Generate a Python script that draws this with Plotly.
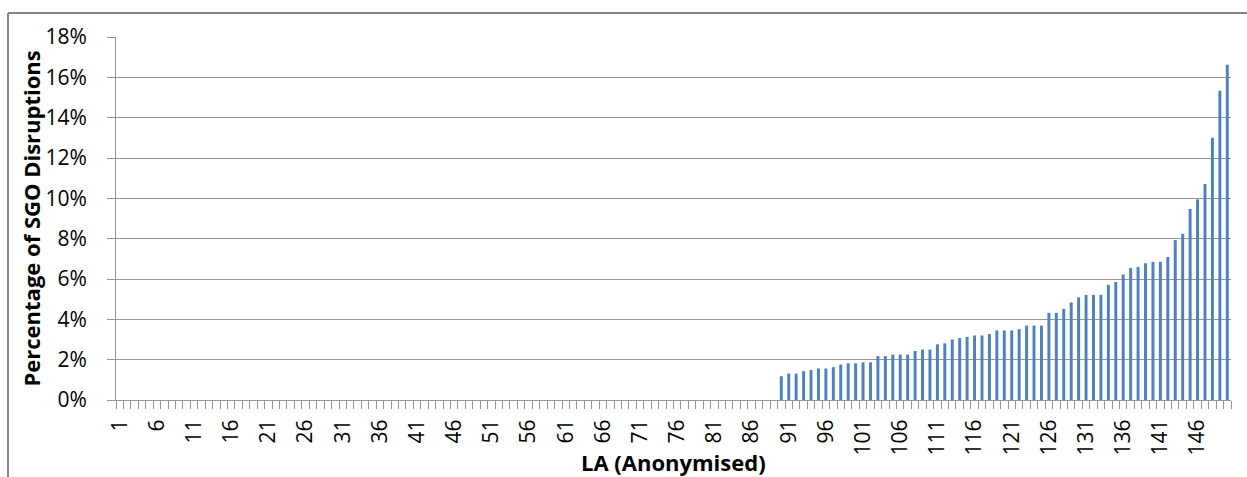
import plotly.graph_objects as go

# Categories: local authorities 1..150 (anonymised)
categories = list(range(1, 151))

# Percentage of SGO disruptions per LA (fraction); LAs 1-89 have zero
zeros_1_89 = [
    0, 0, 0, 0, 0, 0, 0, 0, 0, 0,
    0, 0, 0, 0, 0, 0, 0, 0, 0, 0,
    0, 0, 0, 0, 0, 0, 0, 0, 0, 0,
    0, 0, 0, 0, 0, 0, 0, 0, 0, 0,
    0, 0, 0, 0, 0, 0, 0, 0, 0, 0,
    0, 0, 0, 0, 0, 0, 0, 0, 0, 0,
    0, 0, 0, 0, 0, 0, 0, 0, 0, 0,
    0, 0, 0, 0, 0, 0, 0, 0, 0, 0,
    0, 0, 0, 0, 0, 0, 0, 0, 0,
]
nonzero_90_150 = [
    0.0118, 0.0131, 0.0131, 0.0143, 0.0149, 0.0156, 0.0156, 0.0163, 0.0176, 0.0182,
    0.0182, 0.0187, 0.0187, 0.0218, 0.0218, 0.0225, 0.0225, 0.0225, 0.0243, 0.0250,
    0.0250, 0.0276, 0.0281, 0.0300, 0.0307, 0.0313, 0.0320, 0.0320, 0.0327, 0.0345,
    0.0345, 0.0345, 0.0351, 0.0369, 0.0369, 0.0369, 0.0432, 0.0432, 0.0452, 0.0484,
    0.0509, 0.0521, 0.0521, 0.0521, 0.0571, 0.0585, 0.0622, 0.0654, 0.0660, 0.0678,
    0.0685, 0.0685, 0.0709, 0.0793, 0.0824, 0.0947, 0.0995, 0.1071, 0.1300, 0.1533,
    0.1662,
]
values = zeros_1_89 + nonzero_90_150

# Tick labels every 5th LA
label_vals = categories[::5]
label_text = [str(v) for v in label_vals]
y_ticks = [0, 0.02, 0.04, 0.06, 0.08, 0.10, 0.12, 0.14, 0.16, 0.18]

W, H = 1247, 477
ML, MR, MT, MB = 116, 16, 37, 77
PW = W - ML - MR
PH = H - MT - MB

GRID = "#959595"
FONT = "Open Sans"

fig = go.Figure(go.Bar(
    x=categories,
    y=values,
    marker=dict(color="#4F81BD", line=dict(width=0)),
))

fig.update_layout(
    width=W, height=H,
    margin=dict(l=ML, r=MR, t=MT, b=MB),
    paper_bgcolor="white",
    plot_bgcolor="white",
    bargap=0.6,
    showlegend=False,
    font=dict(family=FONT, size=21, color="#000000"),
)

fig.update_xaxes(
    range=[0.5, 150.5],
    tickmode="array",
    tickvals=label_vals,
    ticktext=label_text,
    tickangle=-90,
    ticks="",
    ticklabelstandoff=10,
    tickfont=dict(family=FONT, size=21, color="#000000"),
    minor=dict(tick0=0.5, dtick=1, ticks="outside", ticklen=8,
               tickcolor=GRID, tickwidth=1, showgrid=False),
    showgrid=False,
    showline=True, linecolor=GRID, linewidth=1,
    zeroline=False,
    automargin=False,
)

fig.update_yaxes(
    range=[0, 0.18],
    tickmode="array",
    tickvals=y_ticks,
    tickformat=".0%",
    ticks="outside", ticklen=8, tickcolor=GRID, tickwidth=1,
    ticklabelstandoff=16,
    tickfont=dict(family=FONT, size=21, color="#000000"),
    showgrid=True, gridcolor=GRID, gridwidth=1,
    showline=True, linecolor=GRID, linewidth=1,
    zeroline=False,
    automargin=False,
)

# Axis titles
fig.add_annotation(
    text="<b>Percentage of SGO Disruptions</b>",
    xref="paper", yref="paper",
    x=(30 - ML) / PW, y=0.5,
    xanchor="center", yanchor="middle",
    textangle=-90, showarrow=False,
    font=dict(family=FONT, size=22, color="#000000"),
)
fig.add_annotation(
    text="<b>LA (Anonymised)</b>",
    xref="paper", yref="paper",
    x=0.5, y=-(462 - (MT + PH)) / PH,
    xanchor="center", yanchor="middle",
    showarrow=False,
    font=dict(family=FONT, size=22, color="#000000"),
)

# Chart-area border (left and top visible)
x_left = (8 - ML) / PW
x_right = (W + 5 - ML) / PW
y_top = 1 + (MT - 13) / PH
y_bot = -(H + 5 - (MT + PH)) / PH
fig.add_shape(type="line", xref="paper", yref="paper",
              x0=x_left, x1=x_left, y0=y_bot, y1=y_top,
              line=dict(color="#858585", width=2), layer="above")
fig.add_shape(type="line", xref="paper", yref="paper",
              x0=x_left, x1=x_right, y0=y_top, y1=y_top,
              line=dict(color="#858585", width=2), layer="above")

fig.write_html(
    "out.html",
    config={"displayModeBar": False},
    post_script="document.body.style.margin='0';document.body.style.overflow='hidden';",
)
